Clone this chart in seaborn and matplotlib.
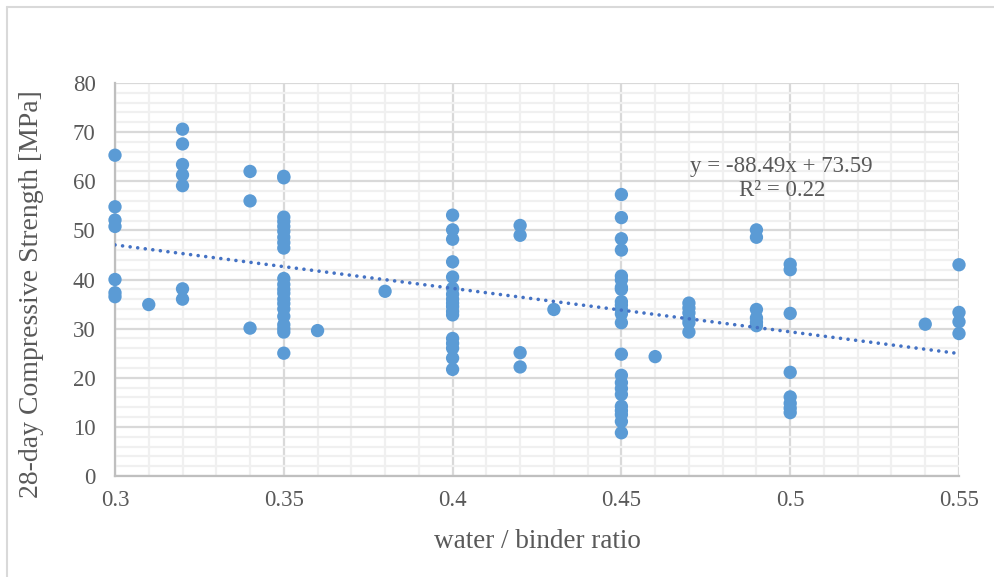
import numpy as np
import pandas as pd
import matplotlib
matplotlib.use("Agg")
import matplotlib.pyplot as plt
import seaborn as sns
from matplotlib.ticker import MultipleLocator
from matplotlib.lines import Line2D

# ---- data ----
wb_030 = [65.3, 54.8, 52.1, 50.8, 40.0, 37.3, 36.5]
wb_031 = [34.9]
wb_032 = [70.6, 67.6, 63.4, 61.3, 59.1, 38.1, 36.0]
wb_034 = [62.0, 56.0, 30.1]
wb_035 = [61.0, 60.7, 52.7, 51.8, 50.8, 49.8, 48.6, 47.5, 46.4,
          40.2, 39.0, 38.0, 37.2, 36.0, 35.1, 34.0, 32.5, 30.8, 30.0, 29.3, 25.0]
wb_036 = [29.6]
wb_038 = [37.6]
wb_040 = [53.1, 50.1, 48.2, 43.6, 40.5, 38.2, 37.0, 36.0, 35.2, 34.5, 33.5, 32.8,
          28.0, 27.0, 26.0, 24.0, 21.7]
wb_042 = [51.0, 49.0, 25.1, 22.2]
wb_043 = [33.9]
wb_045 = [57.3, 52.6, 48.3, 46.0, 40.7, 39.9, 38.4, 38.0, 35.5, 34.8, 33.9, 33.0, 31.2,
          24.8, 20.5, 19.0, 17.8, 16.6, 14.2, 13.3, 12.5, 11.1, 8.8]
wb_046 = [24.3]
wb_047 = [35.2, 34.2, 33.2, 32.0, 31.2, 29.3]
wb_049 = [50.1, 48.6, 33.9, 32.2, 31.3, 30.6]
wb_050 = [43.1, 42.0, 33.1, 21.1, 16.1, 14.8, 13.8, 12.9]
wb_054 = [30.9]
wb_055 = [43.0, 33.3, 31.4, 29.0]

ratios = [0.30, 0.31, 0.32, 0.34, 0.35, 0.36, 0.38, 0.40, 0.42, 0.43,
          0.45, 0.46, 0.47, 0.49, 0.50, 0.54, 0.55]
groups = [wb_030, wb_031, wb_032, wb_034, wb_035, wb_036, wb_038, wb_040, wb_042,
          wb_043, wb_045, wb_046, wb_047, wb_049, wb_050, wb_054, wb_055]

trend_slope = -88.49
trend_intercept = 73.59
trend_label = "y = -88.49x + 73.59\nR² = 0.22"

x_ticks = [0.3, 0.35, 0.4, 0.45, 0.5, 0.55]
x_tick_labels = ["0.3", "0.35", "0.4", "0.45", "0.5", "0.55"]
x_label = "water / binder ratio"
y_label = "28-day Compressive Strength [MPa]"

df = pd.DataFrame({
    "ratio": np.concatenate([[r] * len(g) for r, g in zip(ratios, groups)]),
    "strength": np.concatenate(groups),
})

# ---- styling ----
sns.set_theme(style="white")
plt.rcParams["font.family"] = ["Liberation Serif", "DejaVu Serif"]

W, H = 994, 577
fig = plt.figure(figsize=(W / 100, H / 100), dpi=100)
ax = fig.add_axes([115 / W, 1 - 476 / H, (959 - 115) / W, (476 - 83) / H])

ax.set_xlim(0.3, 0.55)
ax.set_ylim(0, 80)
ax.xaxis.set_major_locator(MultipleLocator(0.05))
ax.xaxis.set_minor_locator(MultipleLocator(0.01))
ax.yaxis.set_major_locator(MultipleLocator(10))
ax.yaxis.set_minor_locator(MultipleLocator(2))
ax.grid(which="minor", color="#f0f0f0", linewidth=1.6, zorder=0)
ax.grid(which="major", color="#d9d9d9", linewidth=1.6, zorder=0)
ax.set_axisbelow(True)

for s in ["top", "right"]:
    ax.spines[s].set_visible(False)
for s in ["left", "bottom"]:
    ax.spines[s].set_color("#bfbfbf")
    ax.spines[s].set_linewidth(1.6)

sns.scatterplot(data=df, x="ratio", y="strength", ax=ax, color="#5b9bd5",
                s=92, edgecolor="none", linewidth=0, zorder=3, clip_on=False)

tx = np.array([0.3, 0.55])
sns.lineplot(x=tx, y=trend_slope * tx + trend_intercept, ax=ax, color="#4472c4",
             linewidth=2.6, zorder=4)
tl = ax.lines[-1]
tl.set_linestyle((0, (0.01, 2.1)))
tl.set_dash_capstyle("round")

ax.text(0.4975, 60.6, trend_label, ha="center", va="center", fontsize=16.5,
        color="#595959", linespacing=1.2, zorder=5)

ax.set_xticks(x_ticks)
ax.set_xticklabels(x_tick_labels)
ax.tick_params(axis="x", which="both", length=0, labelsize=16.5,
               labelcolor="#595959", pad=10)
ax.tick_params(axis="y", which="both", length=0, labelsize=16.5,
               labelcolor="#595959", pad=14)
ax.set_xlabel(x_label, fontsize=19.5, color="#595959")
ax.set_ylabel(y_label, fontsize=20, color="#595959")
ax.xaxis.set_label_coords(0.5, (476 - 541) / 393)
ax.xaxis.label.set_va("center")
ax.yaxis.set_label_coords((32 - 115) / 844, 1 - (294 - 83) / 393)
ax.yaxis.label.set_va("center")

# chart frame (left and top edges visible in the reference)
fig.add_artist(Line2D([7 / W, 7 / W], [0, 1 - 7 / H], color="#d9d9d9",
                      linewidth=1.5, transform=fig.transFigure))
fig.add_artist(Line2D([7 / W, 1], [1 - 7 / H, 1 - 7 / H], color="#d9d9d9",
                      linewidth=1.5, transform=fig.transFigure))

fig.savefig("out.png", dpi=100)
